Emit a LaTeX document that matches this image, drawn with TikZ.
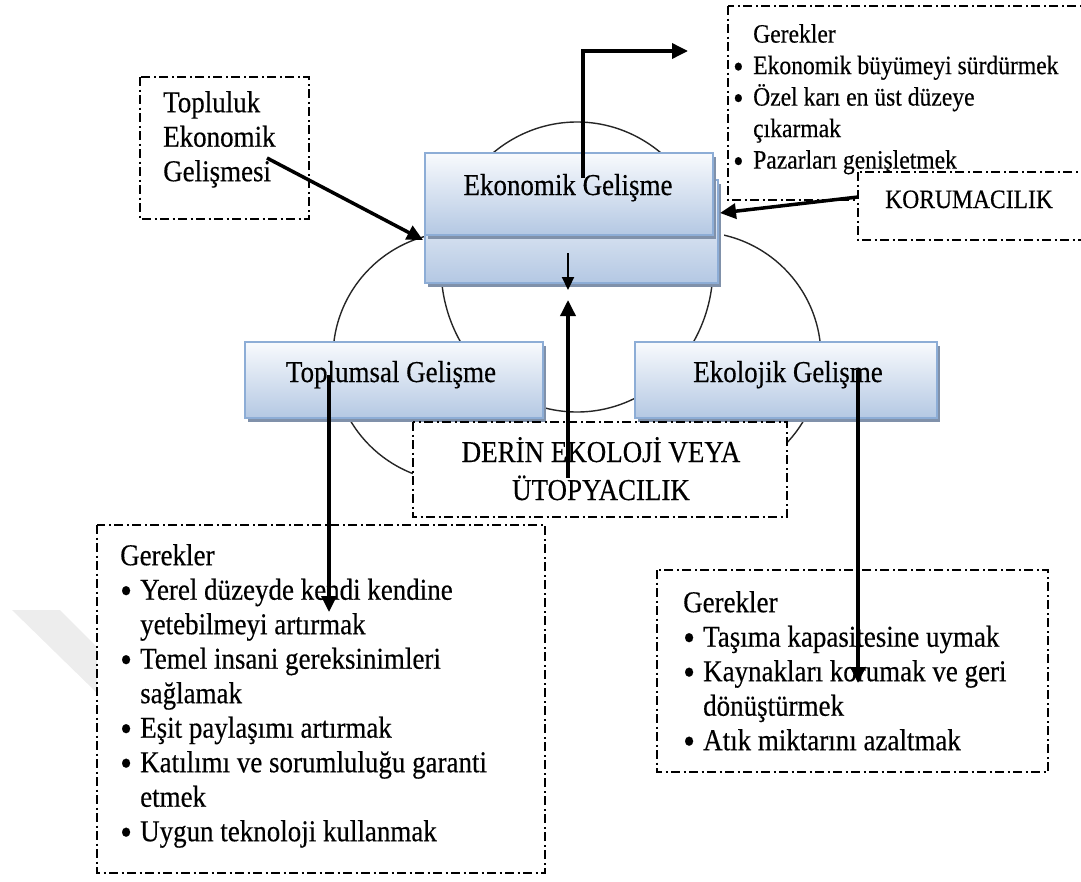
\documentclass[tikz,border=0pt]{standalone}
\usepackage{graphicx}
\usepackage{fontspec}
\setmainfont[FakeStretch=0.89,FakeBold=0.35]{Liberation Serif}
\usetikzlibrary{arrows.meta,shadows}
\definecolor{boxline}{RGB}{141,173,214}
\definecolor{boxtop}{RGB}{248,250,253}
\definecolor{boxbot}{RGB}{180,200,227}
\definecolor{shadowc}{RGB}{128,145,170}
\definecolor{markc}{RGB}{237,237,237}
\newcommand\txtbig{\fontsize{30.3}{34.5}\selectfont}
\newcommand\txtsmall{\fontsize{26.5}{31.5}\selectfont}
\newcommand\dotmark{\raisebox{-3.5pt}{\scalebox{1.25}{\textbullet}}}
\newcommand\bul{\makebox[20pt][l]{\dotmark}}
\newcommand\hbul{\llap{\makebox[20pt][l]{\dotmark}}}

\begin{document}
\begin{tikzpicture}[x=1pt,y=-1pt,
  ddbox/.style={draw=black, fill=white, line width=1.5pt,
    dash pattern=on 9pt off 3.5pt on 2pt off 3.5pt},
  gbox/.style={draw=boxline, line width=1.6pt, top color=boxtop,
    bottom color=boxbot, inner sep=0pt,
    drop shadow={shadow xshift=3pt, shadow yshift=-4pt, fill=shadowc, opacity=1}},
  ring/.style={draw=black!85, line width=1.4pt},
  bigarrow/.style={draw=black, line width=3.5pt, -{Triangle[length=16pt,width=15pt]}},
  smallarrow/.style={draw=black, line width=2.2pt, -{Triangle[length=13pt,width=12pt]}},
  lbl/.style={font=\txtbig, inner sep=0pt, text=black},
  lblsmall/.style={font=\txtsmall, inner sep=0pt, text=black},
  listtxt/.style={font=\txtbig, inner sep=0pt, text=black, align=left, anchor=north west},
  listsmall/.style={font=\txtsmall, inner sep=0pt, text=black, align=left, anchor=north west}
]
\useasboundingbox (0,0) rectangle (1081,881);
\clip (0,0) rectangle (1081,881);

% faint background mark at the left edge
\fill[markc] (12,610) -- (60,610) -- (97,647) -- (97,693) -- cycle;

% the three overlapping circles (side circles show only their outer arcs)
\draw[ring] (577,267) ellipse [x radius=136pt, y radius=145pt];
\begin{scope}
  \clip (0,0) rectangle (430,881);
  \draw[ring] (458,357) circle [radius=125pt];
\end{scope}
\begin{scope}
  \clip (724,0) rectangle (1081,881);
  \draw[ring] (696,357) circle [radius=125pt];
\end{scope}

% outer text frames
\draw[ddbox] (140,77) rectangle (309,219);
\node[listtxt] (topluluk) at (163,91) {Topluluk\\Ekonomik\\Gelişmesi};

\draw[ddbox] (728,6) rectangle (1095,200);
\node[listsmall] (gerek1) at (753,24) {Gerekler\\
  \hbul Ekonomik büyümeyi sürdürmek\\
  \hbul Özel karı en üst düzeye\\
  çıkarmak\\
  \hbul Pazarları genişletmek};

\draw[ddbox] (858,172) rectangle (1095,240);
\node[lblsmall, anchor=base west] (koru) at (885,208) {KORUMACILIK};

% shaded development boxes
\node[gbox, minimum width=293pt, minimum height=103pt] (econback) at (571.5,231.5) {};
\node[gbox, minimum width=288pt, minimum height=82pt] (econ) at (569,194) {};
\node[lbl, anchor=base] (econtxt) at (568,195) {Ekonomik Gelişme};

\node[gbox, minimum width=298pt, minimum height=76pt] (toplumsal) at (394,380) {};
\node[lbl, anchor=base] (toplumsaltxt) at (391,382) {Toplumsal Gelişme};

\node[gbox, minimum width=302pt, minimum height=76pt] (ekolojik) at (786,380) {};
\node[lbl, anchor=base] (ekolojiktxt) at (788,382) {Ekolojik Gelişme};

% centre frame
\draw[ddbox] (413,422) rectangle (787,517);
\node[lbl, anchor=base] (derin1) at (601,462) {DERİN EKOLOJİ VEYA};
\node[lbl, anchor=base] (derin2) at (601,500) {ÜTOPYACILIK};

% lower requirement lists
\draw[ddbox] (97,525) rectangle (545,873);
\node[listtxt] (gerek2) at (120,544) {Gerekler\\
  \bul Yerel düzeyde kendi kendine\\
  \hspace*{20pt}yetebilmeyi artırmak\\
  \bul Temel insani gereksinimleri\\
  \hspace*{20pt}sağlamak\\
  \bul Eşit paylaşımı artırmak\\
  \bul Katılımı ve sorumluluğu garanti\\
  \hspace*{20pt}etmek\\
  \bul Uygun teknoloji kullanmak};

\draw[ddbox] (657,570) rectangle (1048,772);
\node[listtxt] (gerek3) at (683,591) {Gerekler\\
  \bul Taşıma kapasitesine uymak\\
  \bul Kaynakları korumak ve geri\\
  \hspace*{20pt}dönüştürmek\\
  \bul Atık miktarını azaltmak};

% connector end points
\coordinate (a1) at (267,158);
\coordinate (a1e) at (423,240);
\coordinate (a2) at (858,197);
\coordinate (a2e) at (720,213);
\coordinate (a3) at (583,178);
\coordinate (a3e) at (688,51);
\coordinate (a4) at (568,253);
\coordinate (a4e) at (568,290);
\coordinate (a5) at (568,478);
\coordinate (a5e) at (568,300);
\coordinate (a6) at (329,375);
\coordinate (a6e) at (329,612);
\coordinate (a7) at (858,370);
\coordinate (a7e) at (858,683);

% connectors
\draw[bigarrow] (a1) -- (a1e);
\draw[bigarrow] (a2) -- (a2e);
\draw[bigarrow] (a3) |- (a3e);
\draw[smallarrow] (a4) -- (a4e);
\draw[bigarrow] (a5) -- (a5e);
\draw[bigarrow] (a6) -- (a6e);
\draw[bigarrow] (a7) -- (a7e);
\end{tikzpicture}
\end{document}
